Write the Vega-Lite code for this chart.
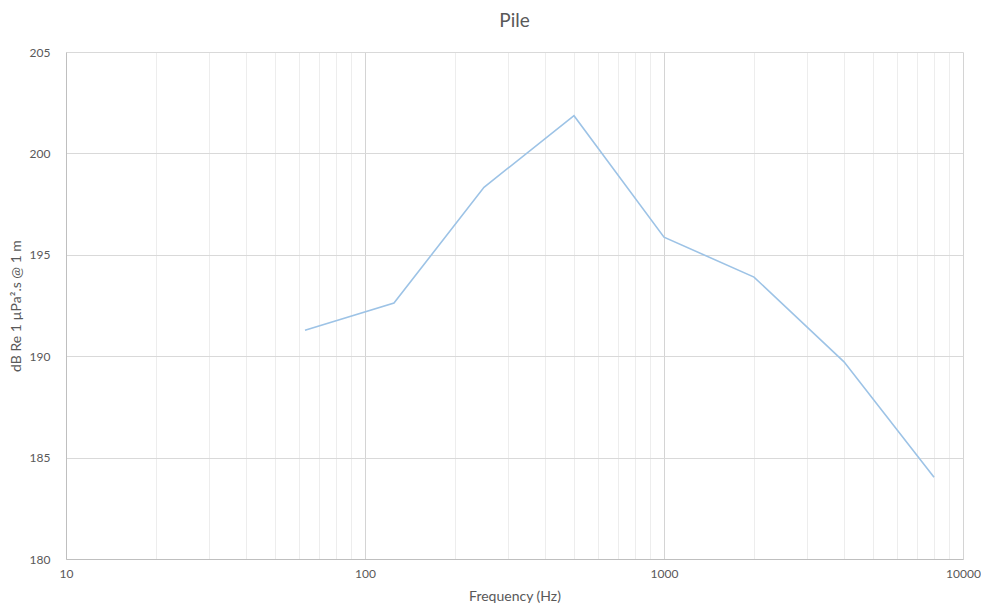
{
  "$schema": "https://vega.github.io/schema/vega-lite/v6.json",
  "width": 897,
  "height": 507,
  "padding": {"left": 66, "top": 52, "right": 18, "bottom": 47},
  "autosize": {"type": "none"},
  "background": "white",
  "title": {
    "text": "Pile",
    "font": "Lato",
    "fontSize": 19,
    "fontWeight": "normal",
    "color": "#595959",
    "anchor": "middle",
    "offset": 15
  },
  "config": {
    "view": {"stroke": null},
    "axis": {
      "labelFont": "Lato",
      "titleFont": "Lato",
      "labelFontSize": 12,
      "titleFontSize": 14,
      "labelColor": "#595959",
      "titleColor": "#595959",
      "titleFontWeight": "normal",
      "domainColor": "#bfbfbf",
      "ticks": false
    }
  },
  "data": {
    "values": [
      {"freq": 63, "level": 191.28},
      {"freq": 125, "level": 192.62},
      {"freq": 250, "level": 198.33},
      {"freq": 500, "level": 201.86},
      {"freq": 1000, "level": 195.87},
      {"freq": 2000, "level": 193.9},
      {"freq": 4000, "level": 189.72},
      {"freq": 8000, "level": 184.03}
    ]
  },
  "mark": {"type": "line", "color": "#9dc3e6", "strokeWidth": 1.6},
  "encoding": {
    "x": {
      "field": "freq",
      "type": "quantitative",
      "scale": {"type": "log", "domain": [10, 10000], "nice": false},
      "axis": {
        "title": "Frequency (Hz)",
        "values": [10, 20, 30, 40, 50, 60, 70, 80, 90, 100, 200, 300, 400, 500, 600, 700, 800, 900, 1000, 2000, 3000, 4000, 5000, 6000, 7000, 8000, 9000, 10000],
        "labelExpr": "indexof([10,100,1000,10000], datum.value) >= 0 ? datum.label : ''",
        "format": "d",
        "labelPadding": 9,
        "titlePadding": 10,
        "labelFlush": false,
        "labelOverlap": false,
        "grid": true,
        "gridColor": {"condition": {"test": "indexof([10,100,1000,10000], datum.value) >= 0", "value": "#d4d4d4"}, "value": "#ededed"},
        "gridWidth": 1
      }
    },
    "y": {
      "field": "level",
      "type": "quantitative",
      "scale": {"domain": [180, 205], "nice": false, "zero": false},
      "axis": {
        "title": "dB Re 1 µPa².s @ 1 m",
        "values": [180, 185, 190, 195, 200, 205],
        "labelPadding": 16,
        "titlePadding": 6,
        "grid": true,
        "gridColor": "#d9d9d9",
        "labelFlush": false
      }
    }
  }
}
